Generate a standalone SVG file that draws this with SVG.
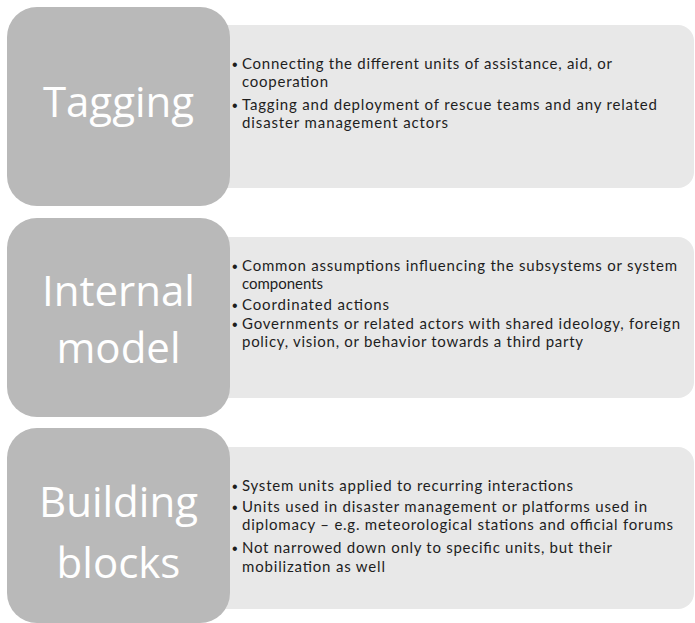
<svg xmlns="http://www.w3.org/2000/svg" width="695" height="623" viewBox="0 0 695 623">
<style>
.sq{fill:#b9b9b9}
.bx{fill:#e8e8e8}
.ttl{font-family:"Open Sans","Liberation Sans",sans-serif;font-size:42px;fill:#ffffff;text-anchor:middle}
.tx{font-family:Lato,"Open Sans",sans-serif;font-size:15px;fill:#1e1e1e}
.bl{font-family:"Liberation Sans",sans-serif;font-size:16px;fill:#1e1e1e}
</style>
<rect width="695" height="623" fill="#ffffff"/>
<g id="row1">
<rect class="bx" x="200" y="25" width="494" height="163" rx="16"/>
<rect class="sq" x="7" y="7" width="223" height="199" rx="30"/>
<text class="ttl" x="118.5" y="117">Tagging</text>
<text class="bl" x="232" y="70">•</text>
<text class="tx" x="242" y="69" textLength="370" lengthAdjust="spacing">Connecting the different units of assistance, aid, or</text>
<text class="tx" x="242" y="87" textLength="86" lengthAdjust="spacing">cooperation</text>
<text class="bl" x="232" y="111">•</text>
<text class="tx" x="242" y="110" textLength="415" lengthAdjust="spacing">Tagging and deployment of rescue teams and any related</text>
<text class="tx" x="242" y="128" textLength="206" lengthAdjust="spacing">disaster management actors</text>
</g>
<g id="row2">
<rect class="bx" x="200" y="237" width="494" height="161" rx="16"/>
<rect class="sq" x="7" y="218" width="223" height="199" rx="30"/>
<text class="ttl" x="118.5" y="306">Internal</text>
<text class="ttl" x="118.5" y="363">model</text>
<text class="bl" x="232" y="272">•</text>
<text class="tx" x="242" y="271" textLength="435" lengthAdjust="spacing">Common assumptions influencing the subsystems or system</text>
<text class="tx" x="242" y="289" textLength="81" lengthAdjust="spacing">components</text>
<text class="bl" x="232" y="311">•</text>
<text class="tx" x="242" y="310" textLength="147" lengthAdjust="spacing">Coordinated actions</text>
<text class="bl" x="232" y="330">•</text>
<text class="tx" x="242" y="329" textLength="438" lengthAdjust="spacing">Governments or related actors with shared ideology, foreign</text>
<text class="tx" x="242" y="347" textLength="341" lengthAdjust="spacing">policy, vision, or behavior towards a third party</text>
</g>
<g id="row3">
<rect class="bx" x="200" y="447" width="494" height="162" rx="16"/>
<rect class="sq" x="7" y="428" width="223" height="195" rx="30"/>
<text class="ttl" x="118.5" y="517">Building</text>
<text class="ttl" x="118.5" y="578">blocks</text>
<text class="bl" x="232" y="492">•</text>
<text class="tx" x="242" y="491" textLength="331" lengthAdjust="spacing">System units applied to recurring interactions</text>
<text class="bl" x="232" y="513">•</text>
<text class="tx" x="242" y="512" textLength="405" lengthAdjust="spacing">Units used in disaster management or platforms used in</text>
<text class="tx" x="242" y="530" textLength="431" lengthAdjust="spacing">diplomacy – e.g. meteorological stations and official forums</text>
<text class="bl" x="232" y="554">•</text>
<text class="tx" x="242" y="553" textLength="370" lengthAdjust="spacing">Not narrowed down only to specific units, but their</text>
<text class="tx" x="242" y="572" textLength="143" lengthAdjust="spacing">mobilization as well</text>
</g>
<g id="connectors"/>
</svg>
